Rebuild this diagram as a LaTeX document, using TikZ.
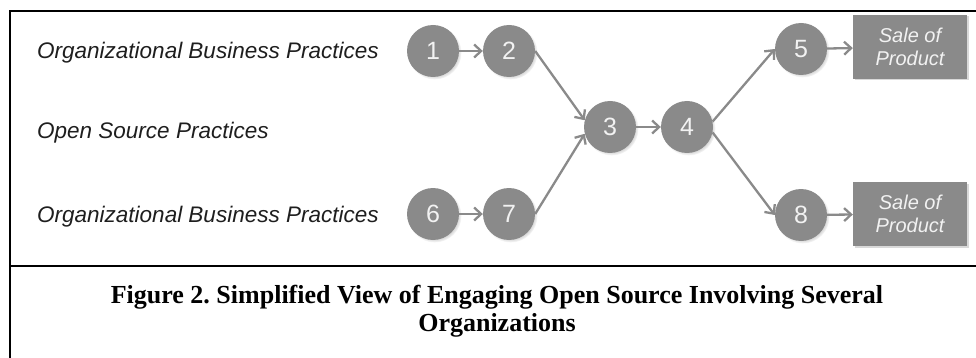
\documentclass[tikz,border=0pt]{standalone}
\usepackage{fontspec}
\setmainfont{Liberation Serif}
\newfontfamily\arialf{Liberation Sans}
\usetikzlibrary{arrows.meta,shadows}
\definecolor{nodegray}{HTML}{8A8A8A}
\definecolor{numwhite}{HTML}{F2F2F2}
\definecolor{labelblack}{HTML}{1E1E1E}
\frenchspacing
\begin{document}
\begin{tikzpicture}[x=1pt,y=-1pt,
  stepnode/.style={circle,fill=nodegray,minimum size=52pt,inner sep=0pt,
    text=numwhite,font=\arialf\fontsize{25}{27}\selectfont,
    circular drop shadow={shadow xshift=1.5pt,shadow yshift=-1.5pt,opacity=0.35,shadow scale=1.04}},
  salebox/.style={rectangle,fill=nodegray,minimum width=114pt,minimum height=64pt,inner sep=0pt,
    text=numwhite,align=center,font=\arialf\itshape\fontsize{20}{23}\selectfont,
    drop shadow={shadow xshift=1.5pt,shadow yshift=-1.5pt,opacity=0.3}},
  rowlabel/.style={anchor=west,inner sep=0pt,text=labelblack,font=\arialf\itshape\fontsize{22.5}{26}\selectfont},
  conn/.style={draw=nodegray,line width=2.3pt,-{Straight Barb[length=7pt,width=13pt,line width=2.3pt]}},
  frame/.style={draw=black,line width=2pt}
]
\useasboundingbox (0,0) rectangle (976,358);
% frame
\coordinate (tl) at (10,11);
\coordinate (tr) at (976,11);
\coordinate (ml) at (10,266);
\coordinate (mr) at (976,266);
\coordinate (bl) at (10,358);
\draw[frame] (bl) -- (tl) -- (tr);
\draw[frame] (ml) -- (mr);
% row labels
\node[rowlabel] (la) at (37,53) {Organizational Business Practices};
\node[rowlabel] (lb) at (37,133) {Open Source Practices};
\node[rowlabel] (lc) at (37,217) {Organizational Business Practices};
% nodes
\node[stepnode] (n1) at (433,51) {1};
\node[stepnode] (n2) at (509,51) {2};
\node[stepnode] (n6) at (433,214) {6};
\node[stepnode] (n7) at (509,214) {7};
\node[stepnode] (n3) at (610,127) {3};
\node[stepnode] (n4) at (687,127) {4};
\node[stepnode] (n5) at (801,49) {5};
\node[stepnode] (n8) at (801,215) {8};
\node[salebox] (s1) at (910,47) {Sale of\\Product};
\node[salebox] (s2) at (910,214) {Sale of\\Product};
% connectors
\draw[conn] (n1) -- (n2);
\draw[conn] (n6) -- (n7);
\draw[conn] (n2.east) -- (n3.165);
\draw[conn] (n7.east) -- (n3.195);
\draw[conn] (n3) -- (n4);
\draw[conn] (n4.12) -- (n5.west);
\draw[conn] (n4.-12) -- (n8.west);
\draw[conn] (n5) -- (s1);
\draw[conn] (n8) -- (s2);
% caption
\node[font=\bfseries\fontsize{26}{28}\selectfont,align=center,inner sep=0pt] (cap) at (497,311)
  {Figure 2. Simplified View of Engaging Open Source Involving Several\\[0pt]Organizations};
\end{tikzpicture}
\end{document}
